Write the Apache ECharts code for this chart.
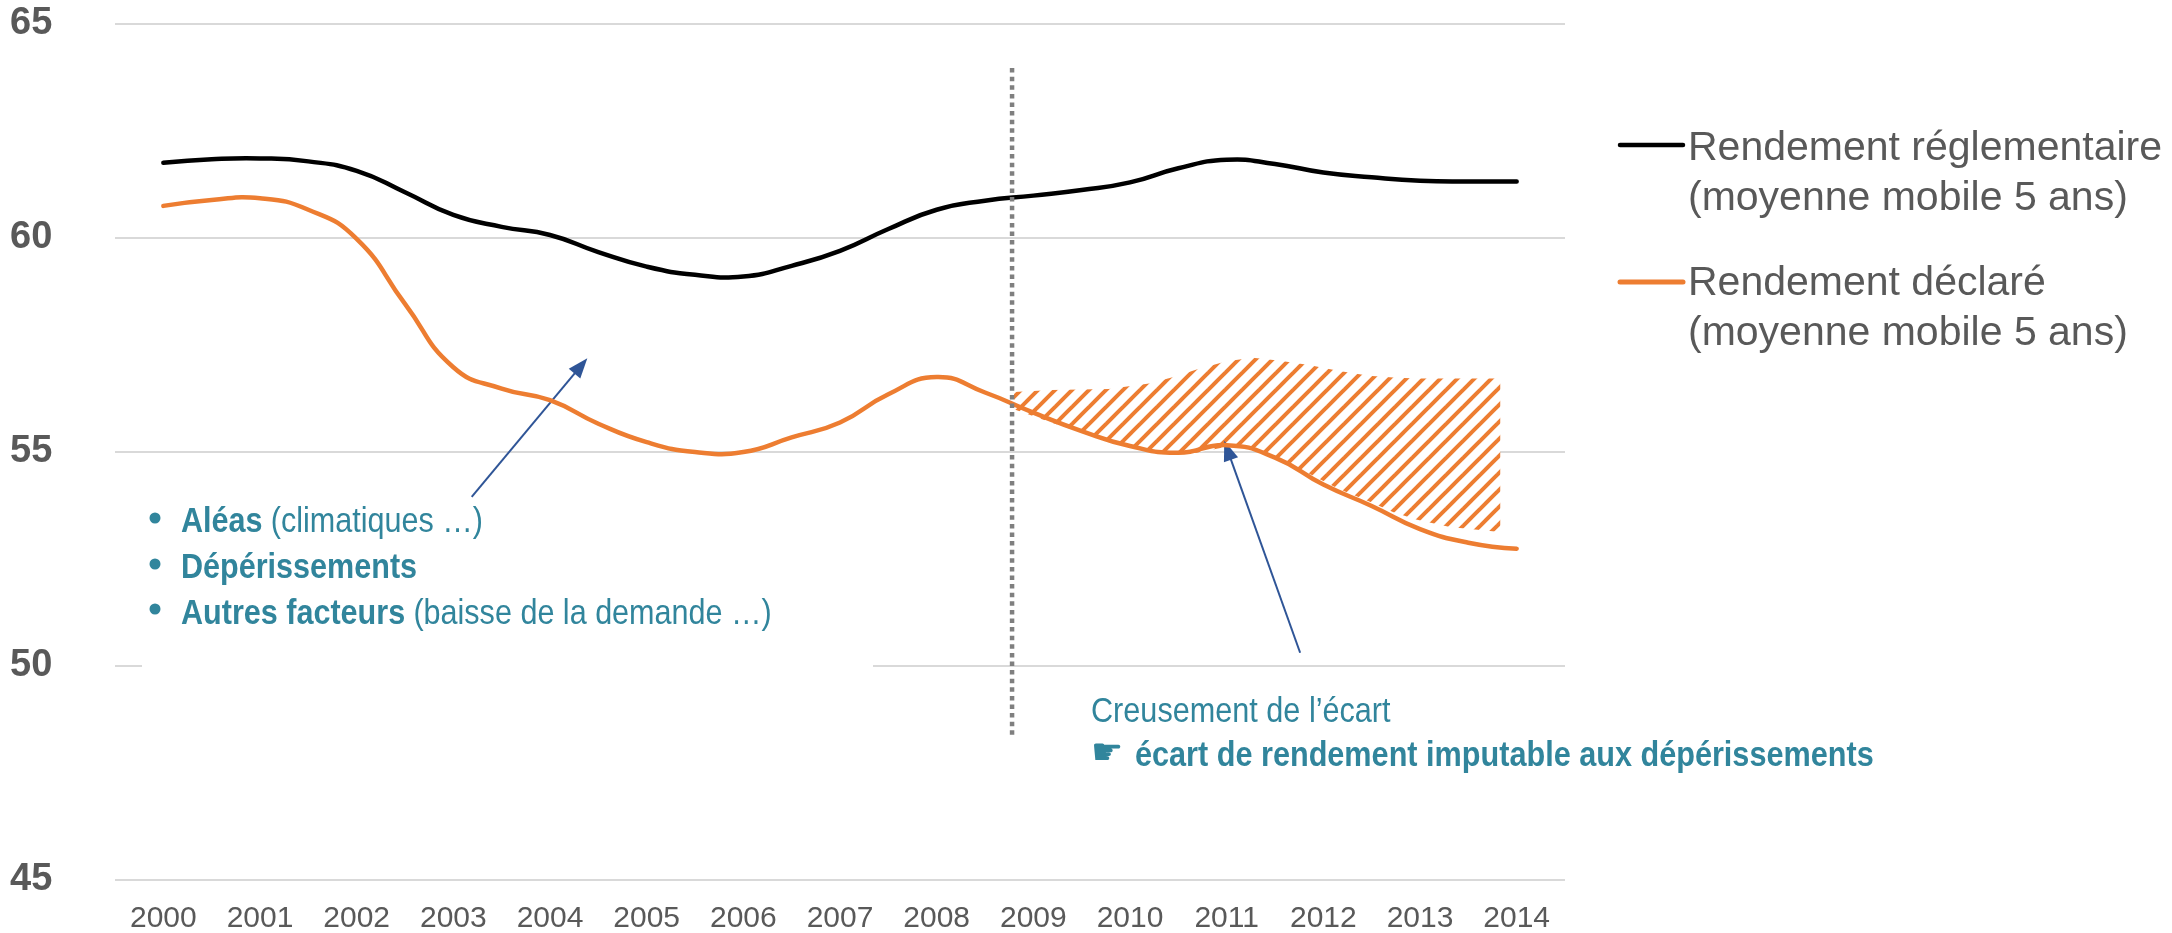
<!DOCTYPE html>
<html>
<head>
<meta charset="utf-8">
<style>
  html, body { margin: 0; padding: 0; background: #fff; }
  #chart { width: 2172px; height: 933px; }
</style>
<script src="https://cdn.jsdelivr.net/npm/echarts@6/dist/echarts.min.js"></script>
</head>
<body>
<div id="chart"></div>
<script>
var yearLabels = ['2000','2001','2002','2003','2004','2005','2006','2007','2008','2009','2010','2011','2012','2013','2014'];
var curveYears = [2000,2000.5,2001,2001.5,2002,2002.5,2003,2003.5,2004,2004.5,2005,2005.5,2006,2006.5,2007,2007.5,2008,2008.5,2009,2009.5,2010,2010.5,2011,2011.5,2012,2012.5,2013,2013.5,2014];
var rendementReglementaire = [61.76,61.84,61.86,61.79,61.57,61.07,60.54,60.26,60.07,59.67,59.33,59.14,59.1,59.35,59.7,60.21,60.66,60.87,60.99,61.12,61.3,61.63,61.83,61.73,61.53,61.42,61.34,61.32,61.32];
var rendementDeclare = [60.75,60.89,60.93,60.66,59.98,58.46,56.98,56.48,56.21,55.66,55.23,55.0,55.0,55.34,55.69,56.35,56.75,56.39,55.92,55.49,55.14,54.98,55.16,54.87,54.24,53.74,53.2,52.88,52.74];
var hatchYears = [2008.8,2009.2,2009.78,2010.2,2010.45,2010.69,2011,2011.27,2011.55,2011.85,2012.15,2012.47,2012.72,2012.96,2013.31,2013.83];
var hatchTop = [56.4,56.45,56.47,56.6,56.75,56.93,57.12,57.2,57.13,57.03,56.9,56.78,56.74,56.72,56.72,56.72];
var hatchBottom = [56.0,55.68,55.25,55.05,55.0,54.98,55.12,55.08,54.8,54.5,54.15,53.85,53.6,53.42,53.25,53.13];
var yMin = 45, yMax = 65, yStep = 5;

var ORANGE = '#ED7D31', TEAL = '#31859C', GREY = '#595959', BLUE = '#2F5597';
var sans = '"Liberation Sans",Arial,sans-serif';

function pairs(xs, ys) {
  return xs.map(function (x, i) { return [x, ys[i]]; });
}

// diagonal hatch tile for the gap area
function hatchTile() {
  var w = 17, h = 17;
  var c = document.createElement('canvas');
  c.width = w; c.height = h;
  var g = c.getContext('2d');
  g.fillStyle = '#fff';
  g.fillRect(0, 0, w, h);
  g.strokeStyle = ORANGE;
  g.lineWidth = 4;
  for (var k = -2; k <= 2; k++) {
    g.beginPath();
    g.moveTo(k * w - w, h + h);
    g.lineTo(k * w + 2 * w, h - 2 * h);
    g.stroke();
  }
  return c;
}
var tile = hatchTile();

function renderHatch(params, api) {
  if (params.dataIndex !== 0) return null;
  var pts = hatchYears.map(function (x, i) { return api.coord([x, hatchTop[i]]); });
  for (var i = hatchYears.length - 1; i >= 0; i--) {
    pts.push(api.coord([hatchYears[i], hatchBottom[i]]));
  }
  return { type: 'polygon', shape: { points: pts }, style: { fill: { image: tile, repeat: 'repeat' } } };
}

// the line series clamps its control points and leaves flat corners, a polyline stays round
function curveSeries(name, values, color) {
  return {
    name: name, type: 'custom', xAxisIndex: 0, z: 5, clip: false,
    data: pairs(curveYears, values),
    renderItem: function (params, api) {
      if (params.dataIndex !== 0) return null;
      var pts = curveYears.map(function (x, i) { return api.coord([x, values[i]]); });
      return {
        type: 'polyline',
        shape: { points: pts, smooth: 0.5 },
        style: { stroke: color, lineWidth: 4.5, lineCap: 'round', lineJoin: 'round', fill: null }
      };
    }
  };
}

function arrow(from, to) {
  return [
    { coord: from, symbol: 'none' },
    { coord: to, symbol: 'triangle', symbolSize: [15, 20] }
  ];
}

function tealText(x, y, text, scale) {
  return {
    type: 'text', x: x, y: y, z: 20, scaleX: scale,
    style: {
      text: text, font: '34px ' + sans, fill: TEAL, verticalAlign: 'middle',
      rich: {
        b: { font: 'bold 35px ' + sans, fill: TEAL },
        r: { font: '35px ' + sans, fill: TEAL }
      }
    }
  };
}

function legendText(y, text) {
  return { type: 'text', z: 20, x: 1688, y: y, style: { text: text, font: '41px ' + sans, fill: GREY, verticalAlign: 'middle' } };
}

var chart = echarts.init(document.getElementById('chart'));
chart.setOption({
  animation: false,
  backgroundColor: '#fff',
  grid: { left: 115, right: 607, top: 24, height: 856, outerBoundsMode: 'none' },
  xAxis: [
    { type: 'value', min: 1999.5, max: 2014.5, show: false },
    {
      type: 'category', data: yearLabels, position: 'bottom',
      axisLine: { show: false }, axisTick: { show: false },
      axisLabel: { color: GREY, fontSize: 30, fontFamily: sans, margin: 24 }
    }
  ],
  yAxis: {
    type: 'value', min: yMin, max: yMax, interval: yStep,
    axisLine: { show: false }, axisTick: { show: false },
    axisLabel: { color: GREY, fontSize: 38, fontWeight: 'bold', fontFamily: sans, margin: 105, align: 'left' },
    splitLine: { lineStyle: { color: '#D9D9D9', width: 2 } }
  },
  series: [
    {
      type: 'custom', xAxisIndex: 0, z: 3, clip: false,
      renderItem: renderHatch,
      data: pairs(hatchYears, hatchTop)
    },
    curveSeries('Rendement réglementaire', rendementReglementaire, '#000'),
    curveSeries('Rendement déclaré', rendementDeclare, ORANGE),
    {
      // separation verticale + fleches
      type: 'line', xAxisIndex: 0, showSymbol: false, z: 6,
      lineStyle: { color: '#7F7F7F', width: 4.5, type: [4.5, 4.1] },
      data: [[2008.78, 63.97], [2008.78, 48.3]],
      markLine: {
        silent: true, animation: false,
        lineStyle: { color: BLUE, width: 2, type: 'solid' },
        label: { show: false },
        data: [
          arrow([2003.19, 53.95], [2004.32, 57.01]),
          arrow([2011.76, 50.31], [2011.01, 55.04])
        ]
      }
    }
  ],
  graphic: [
    // le cadre de texte masque la grille a 50
    { type: 'rect', z: 10, shape: { x: 142, y: 658, width: 731, height: 16 }, style: { fill: '#fff' } },

    { type: 'circle', z: 20, shape: { cx: 155, cy: 518, r: 5.5 }, style: { fill: TEAL } },
    { type: 'circle', z: 20, shape: { cx: 155, cy: 564, r: 5.5 }, style: { fill: TEAL } },
    { type: 'circle', z: 20, shape: { cx: 155, cy: 609, r: 5.5 }, style: { fill: TEAL } },
    tealText(181, 522, '{b|Aléas} {r|(climatiques …)}', 0.873),
    tealText(181, 568, '{b|Dépérissements}', 0.873),
    tealText(181, 614, '{b|Autres facteurs} {r|(baisse de la demande …)}', 0.873),
    tealText(1091, 712, '{r|Creusement de l’écart}', 0.875),
    tealText(1135, 756, '{b|écart de rendement imputable aux dépérissements}', 0.875),
    { type: 'text', z: 20, x: 1091, y: 755, style: { text: '☛', font: '36px "DejaVu Sans"', fill: TEAL, verticalAlign: 'middle' } },

    // legende
    { type: 'line', z: 20, shape: { x1: 1620, y1: 145, x2: 1683, y2: 145 }, style: { stroke: '#000', lineWidth: 4.5, lineCap: 'round' } },
    { type: 'line', z: 20, shape: { x1: 1620, y1: 282, x2: 1683, y2: 282 }, style: { stroke: ORANGE, lineWidth: 5, lineCap: 'round' } },
    legendText(149, 'Rendement réglementaire'),
    legendText(199, '(moyenne mobile 5 ans)'),
    legendText(284, 'Rendement déclaré'),
    legendText(334, '(moyenne mobile 5 ans)')
  ]
});
</script>
</body>
</html>
